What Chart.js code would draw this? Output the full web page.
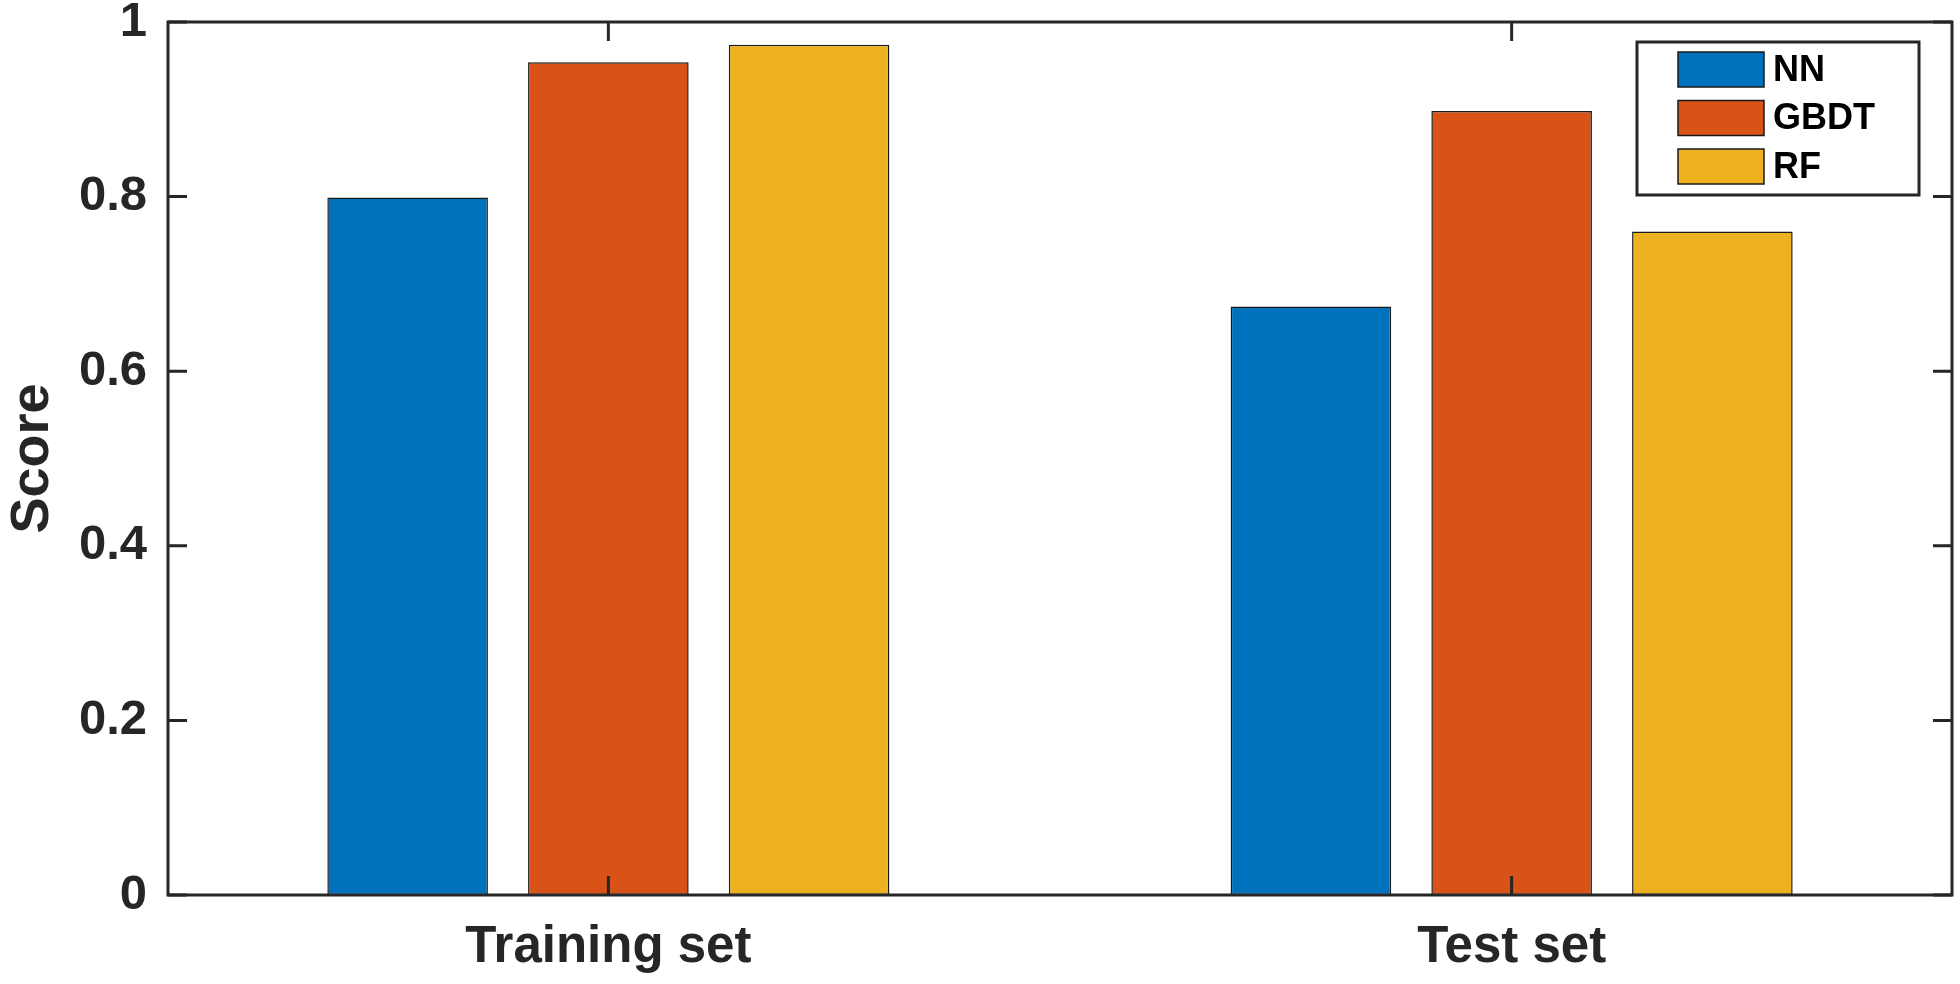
<!DOCTYPE html>
<html>
<head>
<meta charset="utf-8">
<script src="https://cdn.jsdelivr.net/npm/chart.js@4/dist/chart.umd.min.js"></script>
<style>
  html, body { margin: 0; padding: 0; background: #ffffff; }
  #wrap { width: 1960px; height: 984px; }
</style>
</head>
<body>
<div id="wrap"><canvas id="c" width="1960" height="984"></canvas></div>
<script>
// ---- data ----
const categories = ['Training set', 'Test set'];
const categoryPositions = [1, 2];
const seriesNames = ['NN', 'GBDT', 'RF'];
const nnValues = [0.799, 0.674];
const gbdtValues = [0.954, 0.898];
const rfValues = [0.974, 0.760];
const yTickValues = [0, 0.2, 0.4, 0.6, 0.8, 1];
const yTickLabels = ['0', '0.2', '0.4', '0.6', '0.8', '1'];
const seriesColors = ['#0072BD', '#D95319', '#EDB120'];

const INK = '#262626';
const FONT = '"Liberation Sans", Arial, Helvetica, sans-serif';

function toPoints(vals) {
  return vals.map((v, i) => ({ x: categoryPositions[i], y: v }));
}
const seriesValues = [nnValues, gbdtValues, rfValues];

const datasets = seriesNames.map((name, k) => ({
  label: name,
  data: toPoints(seriesValues[k]),
  backgroundColor: seriesColors[k],
  borderColor: '#1a1a1a',
  borderWidth: 1.5,
  borderSkipped: false,
  categoryPercentage: 2 / 3,
  barPercentage: 0.8
}));

// box, inward ticks and legend
const matlabAxes = {
  id: 'matlabAxes',
  afterDatasetsDraw(chart) {
    const ctx = chart.ctx;
    const a = chart.chartArea;
    const xs = chart.scales.x, ys = chart.scales.y;
    const tl = 19;
    ctx.save();
    ctx.strokeStyle = INK;
    ctx.lineWidth = 3;
    ctx.lineCap = 'butt';
    ctx.beginPath();
    yTickValues.forEach(v => {
      const py = ys.getPixelForValue(v);
      ctx.moveTo(a.left, py); ctx.lineTo(a.left + tl, py);
      ctx.moveTo(a.right, py); ctx.lineTo(a.right - tl, py);
    });
    categoryPositions.forEach(p => {
      const px = xs.getPixelForValue(p);
      ctx.moveTo(px, a.bottom); ctx.lineTo(px, a.bottom - tl);
      ctx.moveTo(px, a.top); ctx.lineTo(px, a.top + tl);
    });
    ctx.stroke();
    ctx.strokeRect(a.left, a.top, a.right - a.left, a.bottom - a.top);

    // legend
    const bx = 1637, by = 42, bw = 282, bh = 153;
    ctx.fillStyle = '#ffffff';
    ctx.fillRect(bx, by, bw, bh);
    ctx.strokeRect(bx, by, bw, bh);
    ctx.font = 'bold 36px ' + FONT;
    ctx.textBaseline = 'middle';
    ctx.textAlign = 'left';
    chart.data.datasets.forEach((ds, i) => {
      const sy = 52 + i * 48.5;
      ctx.fillStyle = ds.backgroundColor;
      ctx.fillRect(1678, sy, 86, 35);
      ctx.lineWidth = 1.5;
      ctx.strokeStyle = '#1a1a1a';
      ctx.strokeRect(1678, sy, 86, 35);
      ctx.fillStyle = '#000000';
      ctx.fillText(ds.label, 1773, sy + 19);
    });
    ctx.restore();
  }
};

new Chart(document.getElementById('c'), {
  type: 'bar',
  data: { datasets },
  plugins: [matlabAxes],
  options: {
    responsive: false,
    animation: false,
    devicePixelRatio: 1,
    layout: { padding: { left: 0, right: 8, top: 22, bottom: 0 } },
    plugins: { legend: { display: false }, tooltip: { enabled: false } },
    scales: {
      x: {
        type: 'linear',
        offset: false,
        min: 0.5125,
        max: 2.4875,
        grid: { display: false, drawTicks: false },
        border: { display: false },
        afterBuildTicks(scale) { scale.ticks = categoryPositions.map(v => ({ value: v })); },
        afterFit(scale) { scale.height = 89; scale.paddingLeft = 0; scale.paddingRight = 0; },
        ticks: {
          autoSkip: false,
          maxRotation: 0,
          padding: 22,
          color: INK,
          font: { family: FONT, size: 51, weight: 'bold' },
          callback(value) {
            const i = categoryPositions.indexOf(value);
            return i >= 0 ? categories[i] : '';
          }
        }
      },
      y: {
        min: 0,
        max: 1,
        grid: { display: false, drawTicks: false },
        border: { display: false },
        afterBuildTicks(scale) { scale.ticks = yTickValues.map(v => ({ value: v })); },
        afterFit(scale) { scale.width = 168; scale.paddingTop = 0; scale.paddingBottom = 0; },
        ticks: {
          padding: 21,
          color: INK,
          font: { family: FONT, size: 49, weight: 'bold' },
          callback(value) {
            const i = yTickValues.indexOf(value);
            return i >= 0 ? yTickLabels[i] : '';
          }
        },
        title: {
          display: true,
          text: 'Score',
          color: INK,
          font: { family: FONT, size: 54, weight: 'bold', lineHeight: 1 },
          padding: { top: 6, bottom: 0 }
        }
      }
    }
  }
});
</script>
</body>
</html>
